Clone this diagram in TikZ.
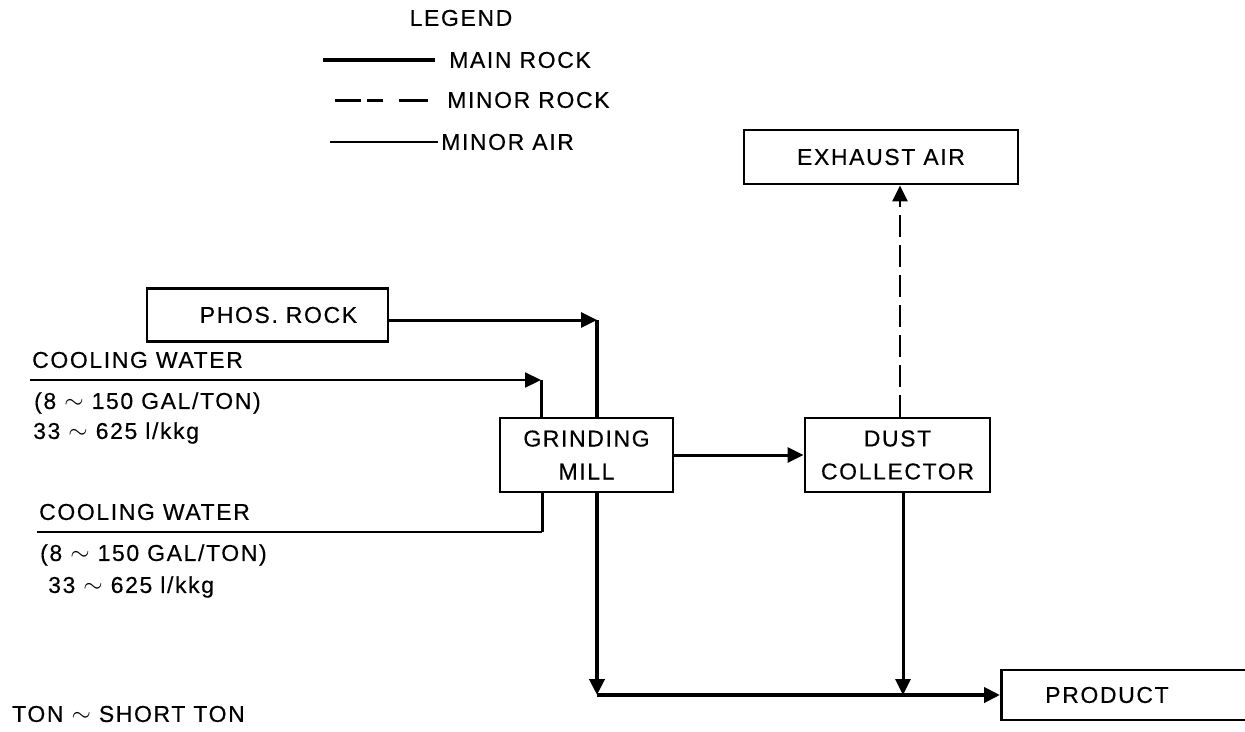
\documentclass[tikz,border=0pt]{standalone}
\usepackage{fontspec}
\setmainfont{Liberation Sans}[LetterSpace=7, FakeBold=0.4]
\usetikzlibrary{arrows.meta}
\tikzset{
  every node/.style={font=\fontsize{23}{27}\selectfont, inner sep=0pt},
  box/.style={draw, line width=2.8pt, align=center},
  txt/.style={anchor=west},
  mainrock/.style={line width=4.5pt},
  rockline/.style={line width=3pt},
  airline/.style={line width=2.2pt},
  minorrock/.style={line width=2.8pt, dash pattern=on 22pt off 8pt},
  legenddash/.style={line width=3pt, dash pattern=on 26pt off 6pt on 16pt off 16pt on 30pt},
  tip/.style={-{Triangle[length=16pt,width=15pt]}}
}
\begin{document}
\begin{tikzpicture}[x=1pt,y=-1pt]
\useasboundingbox (0,0) rectangle (1245,731);
% legend
\node (legend) at (461,18) {LEGEND};
\coordinate (l1a) at (323,60); \coordinate (l1b) at (435,60);
\coordinate (l2a) at (335,100); \coordinate (l2b) at (428,100);
\coordinate (l3a) at (330,142); \coordinate (l3b) at (438,142);
\draw[mainrock] (l1a) -- (l1b);
\draw[legenddash] (l2a) -- (l2b);
\draw[airline] (l3a) -- (l3b);
\node[txt] (lt1) at (449,60) {MAIN ROCK};
\node[txt] (lt2) at (447,100) {MINOR ROCK};
\node[txt] (lt3) at (441,142) {MINOR AIR};
% boxes
\node[box, minimum width=274pt, minimum height=54pt] (exhaust) at (881,157) {EXHAUST AIR};
\node[box, minimum width=241pt, minimum height=53pt] (phos) at (267.5,315) {\hspace*{22pt}PHOS. ROCK};
\node[box, minimum width=173pt, minimum height=74pt] (mill) at (586.5,455) {GRINDING\\[6pt]MILL};
\node[box, minimum width=185pt, minimum height=74pt] (dust) at (897.5,455) {DUST\\[6pt]COLLECTOR};
\node[box, minimum width=260pt, minimum height=50pt, anchor=west] (product) at (1000,695) {};
\node (productlabel) at (1107,695) {PRODUCT};
% texts
\node[txt] (cw1) at (32,360) {COOLING WATER};
\node[txt] (cw1a) at (34,403) {(8 $\sim$ 150 GAL/TON)};
\node[txt] (cw1b) at (33,433) {33 $\sim$ 625 l/kkg};
\node[txt] (cw2) at (39,512) {COOLING WATER};
\node[txt] (cw2a) at (40,555) {(8 $\sim$ 150 GAL/TON)};
\node[txt] (cw2b) at (48,587) {33 $\sim$ 625 l/kkg};
\node[txt] (note) at (12,714) {TON $\sim$ SHORT TON};
% coordinates
\coordinate (pc) at (597,320);
\coordinate (w1s) at (30,380);
\coordinate (w1c) at (541,380);
\coordinate (w2s) at (37,532);
\coordinate (w2c) at (542,532);
\coordinate (b1) at (597,695);
\coordinate (b2) at (903,695);
\coordinate (dx) at (900,0);
% phos rock to mill
\draw[rockline, tip] (phos.east |- pc) -- (pc);
\draw[mainrock] (pc) -- (pc |- mill.north);
% cooling water 1
\draw[airline, tip] (w1s) -- (w1c);
\draw[rockline] (w1c) -- (w1c |- mill.north);
% cooling water 2
\draw[airline] (w2s) -- (w2c);
\draw[rockline] (w2c) -- (w2c |- mill.south);
% mill to dust collector
\draw[rockline, tip] (mill.east) -- (dust.west);
% dust collector to exhaust
\draw[minorrock, tip] (dust.north -| dx) -- (exhaust.south -| dx);
% down to product
\draw[mainrock, tip] (b1 |- mill.south) -- (b1);
\draw[rockline, tip] (b2 |- dust.south) -- (b2);
\draw[mainrock, tip] (b1) -- (product.west);
\end{tikzpicture}
\end{document}
